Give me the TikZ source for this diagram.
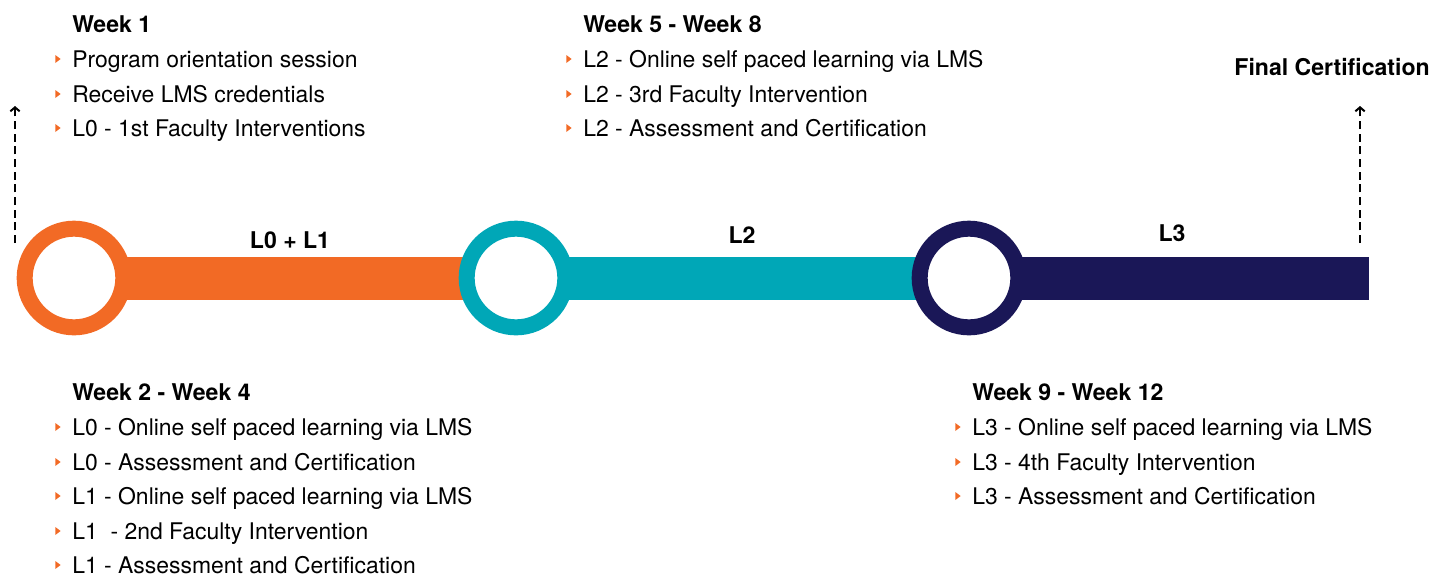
\documentclass[tikz,border=0pt]{standalone}
\usepackage{fontspec}
\setmainfont{TeX Gyre Heros}
\usetikzlibrary{shapes.geometric,arrows.meta,backgrounds}

\definecolor{orangeC}{HTML}{F26A25}
\definecolor{tealC}{HTML}{00A7B7}
\definecolor{navyC}{HTML}{1A1757}

\tikzset{
    stage/.style={circle, draw=#1, fill=white, line width=12pt, minimum size=74pt, inner sep=0pt},
    band/.style={line width=32.25pt, draw=#1},
    head/.style={anchor=west, inner sep=0pt, font=\bfseries\fontsize{17.3}{20}\selectfont, text height=12.4pt, text depth=0pt},
    tag/.style={inner sep=0pt, font=\bfseries\fontsize{17.3}{20}\selectfont, text height=12.4pt, text depth=0pt},
    tick/.style={isosceles triangle, isosceles triangle stretches, fill=orangeC, inner sep=0pt, minimum width=6pt, minimum height=4pt, xshift=-8pt},
    item/.style={anchor=west, inner sep=0pt, font=\fontsize{17.2}{20}\selectfont, text height=12.4pt, text depth=0pt, label={[tick]left:{}}},
    guide/.style={line width=1.8pt, dash pattern=on 6pt off 3.5pt, -{Straight Barb[length=3pt, width=7pt, line width=1.5pt]}}
}

\begin{document}
\begin{tikzpicture}[x=0.75pt, y=-0.75pt]
    \useasboundingbox (0,0) rectangle (1434,576);

    % Stages
    \node[stage=orangeC] (c0) at (74,278) {};
    \node[stage=tealC] (c1) at (516,278) {};
    \node[stage=navyC] (c2) at (969,278) {};
    \coordinate (end) at (1369,278);

    % Bands
    \begin{scope}[on background layer]
        \draw[band=orangeC] (c0.center) -- (c1.center);
        \draw[band=tealC] (c1.center) -- (c2.center);
        \draw[band=navyC] (c2.center) -- (end);
    \end{scope}

    % Band labels
    \node[tag] (t0) at (290,240) {L0 + L1};
    \node[tag] (t1) at (742,235) {L2};
    \node[tag] (t2) at (1172,233) {L3};
    \node[tag, anchor=east] (fc) at (1430,67) {Final Certification};

    % Guides
    \coordinate (g0) at (15,243);
    \coordinate (g1) at (15,106);
    \coordinate (g2) at (1360,243);
    \coordinate (g3) at (1360,106);
    \draw[guide] (g0) -- (g1);
    \draw[guide] (g2) -- (g3);

    % Week 1
    \node[head] (h1) at (72,24) {Week 1};
    \node[item] (a1) at (72,59) {Program orientation session};
    \node[item] (a2) at (72,94) {Receive LMS credentials};
    \node[item] (a3) at (72,128) {L0 - 1st Faculty Interventions};

    % Week 2 - Week 4
    \node[head] (h2) at (72,392) {Week 2 - Week 4};
    \node[item] (b1) at (72,427) {L0 - Online self paced learning via LMS};
    \node[item] (b2) at (72,462) {L0 - Assessment and Certification};
    \node[item] (b3) at (72,496) {L1 - Online self paced learning via LMS};
    \node[item] (b4) at (72,531) {L1\ \ - 2nd Faculty Intervention};
    \node[item] (b5) at (72,565) {L1 - Assessment and Certification};

    % Week 5 - Week 8
    \node[head] (h3) at (583,24) {Week 5 - Week 8};
    \node[item] (d1) at (583,59) {L2 - Online self paced learning via LMS};
    \node[item] (d2) at (583,94) {L2 - 3rd Faculty Intervention};
    \node[item] (d3) at (583,128) {L2 - Assessment and Certification};

    % Week 9 - Week 12
    \node[head] (h4) at (972,392) {Week 9 - Week 12};
    \node[item] (e1) at (972,427) {L3 - Online self paced learning via LMS};
    \node[item] (e2) at (972,462) {L3 - 4th Faculty Intervention};
    \node[item] (e3) at (972,496) {L3 - Assessment and Certification};
\end{tikzpicture}
\end{document}
